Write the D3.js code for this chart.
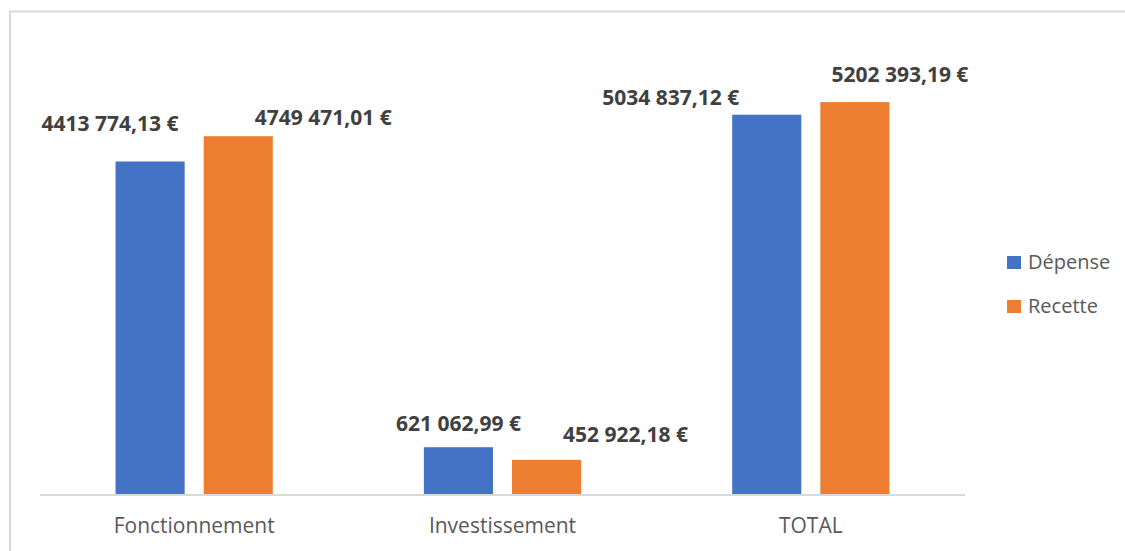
<!DOCTYPE html>
<html>
<head>
<meta charset="utf-8">
<script src="https://cdn.jsdelivr.net/npm/d3@7"></script>
<style>
  body { margin:0; background:#fff; }
  text { font-family: "Open Sans", sans-serif; }
</style>
</head>
<body>
<div id="plot"></div>
<script>
// data
var categories = ['Fonctionnement', 'Investissement', 'TOTAL'];
var series = ['Dépense', 'Recette'];
var depense = [4413774.13, 621062.99, 5034837.12];
var recette = [4749471.01, 452922.18, 5202393.19];
var colors = ['#4472c4', '#ed7d31'];

// labels were dragged around by hand in the original, keep their offsets here
var labelDx = [[-40, 0, -96], [85, 79, 45]];
var labelDy = [[30, 16, 10], [11, 18, 20]];

var W = 1125, H = 551;
var svg = d3.select('#plot').append('svg')
  .attr('width', W).attr('height', H);

// chart frame (only top + left visible in the crop)
svg.append('rect')
  .attr('x', 10).attr('y', 11.5)
  .attr('width', W + 20).attr('height', H + 20)
  .attr('fill', 'none').attr('stroke', '#d9d9d9').attr('stroke-width', 2);

var x0 = d3.scaleBand().domain(categories).range([40, 965])
  .paddingInner(0.49).paddingOuter(0.245);
var x1 = d3.scaleBand().domain(series).range([0, x0.bandwidth()])
  .paddingInner(0.216).paddingOuter(0);
var y = d3.scaleLinear().domain([0, 6000000]).range([494, 42]);

var values = [depense, recette];

// euro format: "4413 774,13 €" (only the last group is split)
function fmt(v) {
  var s = v.toFixed(2).split('.');
  var ip = s[0];
  if (ip.length > 3) ip = ip.slice(0, ip.length - 3) + ' ' + ip.slice(-3);
  return ip + ',' + s[1] + ' €';
}

var rows = [];
series.forEach(function(s, si) {
  categories.forEach(function(c, ci) {
    rows.push({s: s, si: si, c: c, ci: ci, v: values[si][ci]});
  });
});

var g = svg.append('g');
g.selectAll('rect.bar').data(rows).enter().append('rect')
  .attr('class', 'bar')
  .attr('x', function(d) { return x0(d.c) + x1(d.s); })
  .attr('y', function(d) { return y(d.v); })
  .attr('width', x1.bandwidth())
  .attr('height', function(d) { return y(0) - y(d.v); })
  .attr('fill', function(d) { return colors[d.si]; });

// baseline
svg.append('line')
  .attr('x1', x0.range()[0]).attr('x2', x0.range()[1])
  .attr('y1', y(0) + 1).attr('y2', y(0) + 1)
  .attr('stroke', '#d9d9d9').attr('stroke-width', 2);

// value labels
g.selectAll('text.val').data(rows).enter().append('text')
  .attr('class', 'val')
  .attr('x', function(d) { return x0(d.c) + x1(d.s) + x1.bandwidth() / 2 + labelDx[d.si][d.ci]; })
  .attr('y', function(d) { return y(d.v) - labelDy[d.si][d.ci]; })
  .attr('text-anchor', 'middle')
  .attr('font-size', '21px')
  .attr('font-weight', 'bold')
  .attr('fill', '#404040')
  .text(function(d) { return fmt(d.v); });

// category labels
svg.selectAll('text.cat').data(categories).enter().append('text')
  .attr('class', 'cat')
  .attr('x', function(d) { return x0(d) + x0.bandwidth() / 2; })
  .attr('y', 533)
  .attr('text-anchor', 'middle')
  .attr('font-size', '21px')
  .attr('fill', '#595959')
  .text(function(d) { return d; });

// legend
var leg = svg.selectAll('g.leg').data(series).enter().append('g')
  .attr('class', 'leg')
  .attr('transform', function(d, i) { return 'translate(1007,' + (256 + i * 44) + ')'; });
leg.append('rect').attr('width', 14).attr('height', 13)
  .attr('fill', function(d, i) { return colors[i]; });
leg.append('text').attr('x', 21).attr('y', 13)
  .attr('font-size', '20px').attr('fill', '#595959')
  .text(function(d) { return d; });
</script>
</body>
</html>
